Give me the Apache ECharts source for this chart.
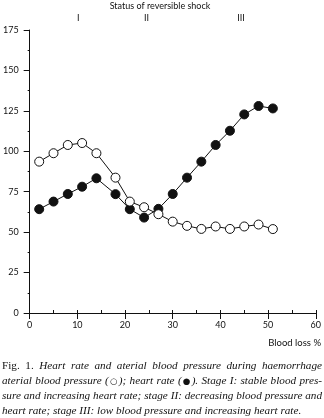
<!DOCTYPE html>
<html>
<head>
<meta charset="utf-8">
<script src="https://cdn.jsdelivr.net/npm/echarts@6/dist/echarts.min.js"></script>
<style>
html,body{margin:0;padding:0;background:#fff;}
#c{width:324px;height:418px;}
</style>
</head>
<body>
<div id="c"></div>
<script>
// ---- data ----
const bloodLoss = [2, 5, 8, 11, 14, 18, 21, 24, 27, 30, 33, 36, 39, 42, 45, 48, 51];
const bloodPressure = [93.6, 98.8, 103.9, 105.1, 98.8, 83.7, 68.9, 65.4, 61.1, 56.5, 53.9, 52.0, 53.5, 52.0, 53.5, 54.7, 51.9];
const heartRate = [64.2, 68.9, 73.6, 78.1, 83.3, 73.5, 64.2, 59.0, 64.4, 73.6, 83.7, 93.6, 103.9, 112.7, 122.8, 128.0, 126.5];
const stageLabels = ['I', 'II', 'III'];
const stagePos = [10.2, 24.5, 44.3];
const titleText = 'Status of reversible shock';
const xName = 'Blood loss %';
// caption: segments [text, style] with style 'r' roman, 'i' italic, 's' symbol
const captionLines = [
  [['Fig. 1.', 'r'], [' Heart rate and aterial blood pressure during haemorrhage', 'i']],
  [['aterial blood pressure (', 'i'], ['○', 's'], ['); heart rate (', 'i'], ['●', 's'], ['). Stage I: stable blood pres-', 'i']],
  [['sure and increasing heart rate; stage II: decreasing blood pressure and', 'i']],
  [['heart rate; stage III: low blood pressure and increasing heart rate.', 'i']]
];

const SANS = 'Lato';
const SERIF = 'Liberation Serif';
const SYM = 'DejaVu Sans';
const INK = '#111';

const chart = echarts.init(document.getElementById('c'), null, {renderer: 'canvas'});

const pts = (ys) => bloodLoss.map((x, i) => [x, ys[i]]);

chart.setOption({
  animation: false,
  backgroundColor: '#fff',
  grid: {left: 26, right: 5, top: 30, bottom: 105, containLabel: false},
  xAxis: [{
    type: 'value', min: 0, max: 60, interval: 10, position: 'bottom',
    axisLine: {show: true, lineStyle: {color: INK, width: 1}},
    axisTick: {show: true, length: 6, inside: false, lineStyle: {color: INK, width: 1}},
    axisLabel: {show: true, margin: 8, fontSize: 9, fontFamily: SANS, color: INK},
    splitLine: {show: false}
  }, {
    type: 'value', min: 0, max: 60, interval: 5, position: 'bottom', offset: 0,
    axisLine: {show: false},
    axisTick: {show: true, length: 3, inside: true, lineStyle: {color: INK, width: 1}},
    axisLabel: {show: false},
    splitLine: {show: false}
  }],
  yAxis: {
    type: 'value', min: 0, max: 175, interval: 25,
    axisLine: {show: true, lineStyle: {color: INK, width: 1}},
    axisTick: {show: true, length: 6, lineStyle: {color: INK, width: 1}},
    minorTick: {show: true, splitNumber: 2, length: 2, lineStyle: {color: INK, width: 1}},
    axisLabel: {show: true, margin: 11, fontSize: 9, fontFamily: SANS, color: INK},
    splitLine: {show: false}
  },
  series: [{
    name: 'heart rate', type: 'line', xAxisIndex: 0,
    data: pts(heartRate),
    symbol: 'circle', symbolSize: 9,
    lineStyle: {color: INK, width: 1},
    itemStyle: {color: INK, borderColor: INK, borderWidth: 1},
    z: 2
  }, {
    name: 'aterial blood pressure', type: 'line', xAxisIndex: 0,
    data: pts(bloodPressure),
    symbol: 'circle', symbolSize: 9,
    lineStyle: {color: INK, width: 1},
    itemStyle: {color: '#fff', borderColor: INK, borderWidth: 1},
    z: 3
  }]
});

// ---- text layout ----
const graphics = [];
graphics.push({type: 'text', x: 160, y: 6, style: {text: titleText, font: '9px ' + SANS, fill: INK, align: 'center', verticalAlign: 'middle'}});
stageLabels.forEach((s, i) => {
  const px = chart.convertToPixel({xAxisIndex: 0}, stagePos[i]);
  graphics.push({type: 'text', x: px, y: 18.5, style: {text: s, font: '9px ' + SANS, fill: INK, align: 'center', verticalAlign: 'middle'}});
});
graphics.push({type: 'text', x: 321, y: 343, style: {text: xName, font: '9.5px ' + SANS, fill: INK, align: 'right', verticalAlign: 'middle'}});

// caption: justified lines (last line natural)
const cv = document.createElement('canvas').getContext('2d');
const SYM_PAD = 1.2;
function fontStr(size, st) {
  if (st === 's') return Math.round(size * 0.78 * 10) / 10 + 'px "' + SYM + '"';
  return (st === 'i' ? 'italic ' : '') + size + 'px "' + SERIF + '"';
}
function segWidth(t, st, size) {
  cv.font = fontStr(size, st);
  return cv.measureText(t).width + (st === 's' ? 2 * SYM_PAD : 0);
}
// split a line into words; each word is a list of [text, style] pieces
function lineWords(line) {
  const words = [[]];
  line.forEach(([t, st]) => {
    const parts = t.split(' ');
    parts.forEach((p, k) => {
      if (k > 0) words.push([]);
      if (p.length) words[words.length - 1].push([p, st]);
    });
  });
  return words.filter(w => w.length);
}
function wordWidth(word, size) {
  return word.reduce((a, [t, st]) => a + segWidth(t, st, size), 0);
}
function natural(line, size) {
  const words = lineWords(line);
  cv.font = fontStr(size, 'i');
  const sp = cv.measureText(' ').width;
  return words.reduce((a, w) => a + wordWidth(w, size), 0) + sp * (words.length - 1);
}
const base = 11;
let size = base * 300 / natural(captionLines[3], base);
size = Math.round(size * 10) / 10;
const capY = [366, 381.5, 396.5, 411.5];
const left = 2, right = 322;
captionLines.forEach((line, li) => {
  const words = lineWords(line);
  const widths = words.map(w => wordWidth(w, size));
  const total = widths.reduce((a, b) => a + b, 0);
  cv.font = fontStr(size, 'i');
  let gap = cv.measureText(' ').width;
  if (li < captionLines.length - 1 && words.length > 1) gap = (right - left - total) / (words.length - 1);
  let x = left;
  words.forEach((w, i) => {
    let xx = x;
    w.forEach(([t, st]) => {
      const pad = st === 's' ? SYM_PAD : 0;
      graphics.push({type: 'text', x: xx + pad, y: capY[li] + (st === 's' ? 0.5 : 0), style: {text: t, font: fontStr(size, st), fill: INK, align: 'left', verticalAlign: 'middle'}});
      xx += segWidth(t, st, size);
    });
    x += widths[i] + gap;
  });
});

chart.setOption({graphic: {elements: graphics}});
</script>
</body>
</html>
